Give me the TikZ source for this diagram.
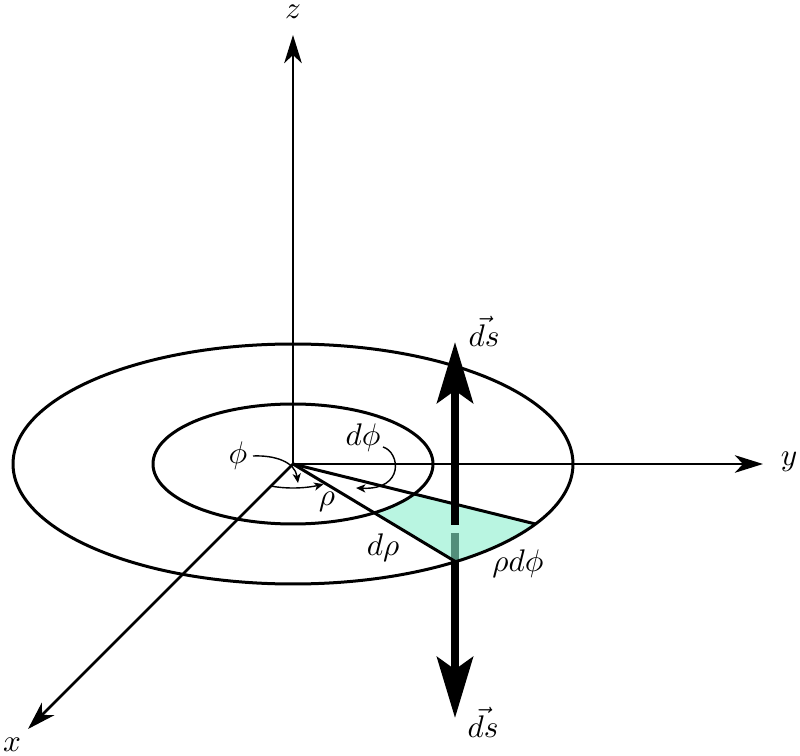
\documentclass[tikz,border=0pt]{standalone}
\usetikzlibrary{arrows.meta}
\definecolor{patchcol}{RGB}{138,238,205}
\begin{document}
\begin{tikzpicture}[x=0.32pt,y=-0.32pt,
  axis/.style={line width=0.86pt,-{Stealth[length=9pt,width=5.6pt,inset=2.6pt]}},
  ring/.style={line width=0.96pt},
  radial/.style={line width=0.96pt},
  thinarrow/.style={line width=0.45pt,-{Stealth[length=3pt,width=2.6pt,inset=0.8pt]}},
  dsarrow/.style={line width=2.6pt,-{Stealth[length=19.5pt,width=11.5pt,inset=4pt]}},
  patch/.style={fill=patchcol,fill opacity=0.6},
  lbl/.style={inner sep=0pt}]
\useasboundingbox (0,0) rectangle (800,756);
\coordinate (O) at (293,464);
\coordinate (X) at (28,729);
\coordinate (Y) at (763,464);
\coordinate (Z) at (293,35);
\coordinate (A1) at ({293+280*cos(30)},{464+120*sin(30)});
\coordinate (A2) at ({293+280*cos(54.5)},{464+120*sin(54.5)});
\coordinate (DsUpTail) at (455,525);
\coordinate (DsUpTip) at (455,342);
\coordinate (DsDnTail) at (455,533);
\coordinate (DsDnTip) at (455,718);
\coordinate (PhiS) at (253,456);
\coordinate (PhiE) at (298,483);
\coordinate (DphiS) at (383,447);
\coordinate (DphiE) at (356,488);
% lower ds arrow (behind the patch)
\draw[dsarrow] (DsDnTail) -- (DsDnTip);
% shaded patch
\fill[patch] plot[domain=30:54.5,samples=25] ({293+140*cos(\x)},{464+60*sin(\x)})
  -- plot[domain=54.5:30,samples=25] ({293+280*cos(\x)},{464+120*sin(\x)}) -- cycle;
% rings
\draw[ring] (O) ellipse [x radius=44.8pt, y radius=19.2pt];
\draw[ring] (O) ellipse [x radius=89.6pt, y radius=38.4pt];
% axes
\draw[axis] (O) -- (X);
\draw[axis] (O) -- (Y);
\draw[axis] (O) -- (Z);
% radial lines
\draw[radial] (O) -- (A1);
\draw[radial] (O) -- (A2);
% upper ds arrow
\draw[dsarrow] (DsUpTail) -- (DsUpTip);
% angle arrows
\draw[thinarrow] (PhiS) .. controls (275,455) and (295,462) .. (PhiE);
\draw[thinarrow] plot[domain=113:57,samples=30] ({293+56*cos(\x)},{464+24*sin(\x)});
\draw[thinarrow] (DphiS) .. controls (400,452) and (405,490) .. (DphiE);
% labels
\node[lbl] (lz) at (293,12) {$z$};
\node[lbl] (ly) at (789,462) {$y$};
\node[lbl] (lx) at (12,745) {$x$};
\node[lbl] (lphi) at (238,456) {$\phi$};
\node[lbl] (ldphi) at (363,438) {$d\phi$};
\node[lbl] (lrho) at (327,502) {$\rho$};
\node[lbl] (ldrho) at (383,548) {$d\rho$};
\node[lbl] (lrdp) at (518,564) {$\rho d\phi$};
\node[lbl] (ldsu) at (484,331) {$\vec{ds}$};
\node[lbl] (ldsd) at (483,722) {$\vec{ds}$};
\end{tikzpicture}
\end{document}
